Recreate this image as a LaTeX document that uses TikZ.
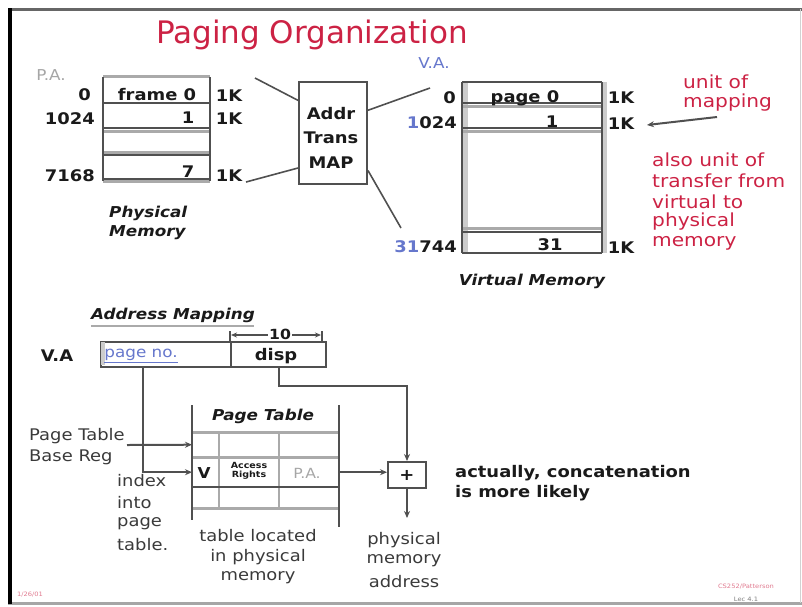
\documentclass[tikz,border=0pt]{standalone}
\usepackage{fontspec}
\setmainfont[FakeStretch=1.12]{DejaVu Sans}
\newfontfamily\titlefont{DejaVu Sans}
\usetikzlibrary{arrows.meta}
\definecolor{ttred}{HTML}{CC2244}
\definecolor{ttblue}{HTML}{6677CC}
\definecolor{ln}{HTML}{505050}
\definecolor{lg}{HTML}{AAAAAA}
\definecolor{tx}{HTML}{1A1A1A}
\definecolor{tl}{HTML}{3A3A3A}
\begin{document}
\begin{tikzpicture}[x=1pt,y=-1pt,
  fs/.style={font=\fontsize{#1}{#1}\selectfont},
  fb/.style={font=\fontsize{#1}{#1}\selectfont\bfseries},
  lbl/.style={inner sep=0pt, text=tx, fb=16},
  redt/.style={inner sep=0pt, text=ttred, fs=18, anchor=west},
  bi/.style={inner sep=0pt, text=tx, font=\fontsize{15}{15}\selectfont\bfseries\itshape},
  sm/.style={inner sep=0pt, text=tl, fs=16},
  dk/.style={draw=ln, line width=2pt},
  gl/.style={draw=lg, line width=3pt},
  conn/.style={draw=ln, line width=1.6pt},
  arr/.style={draw=ln, line width=2pt, -{Stealth[length=7pt,width=6pt]}},
  boxn/.style={draw=ln, line width=2pt, inner sep=0pt, anchor=north west}]
\useasboundingbox (0,0) rectangle (802,606);
% frame
\draw[draw=gray!80!black, line width=3pt] (8,9) -- (802,9);
\draw[draw=gray!70, line width=3pt] (8,603) -- (802,603);
\draw[draw=gray!35, line width=1pt] (800,9) -- (800,603);
\draw[draw=black, line width=3.5pt] (10,8) -- (10,604);
% title
\node[inner sep=0pt, text=ttred, font=\titlefont\fontsize{31}{31}\selectfont] (title) at (312,35) {Paging Organization};
% ---------- physical memory
\node[inner sep=0pt, text=gray!70, fs=15] (pa) at (51,75) {P.A.};
\path[gl] (103,76.5) -- (210,76.5);
\path[gl] (103,131) -- (210,131);
\path[gl] (103,152.5) -- (210,152.5);
\path[gl] (103,181) -- (210,181);
\path[dk] (103,77) -- (103,181) (210,77) -- (210,181);
\path[dk] (103,103) -- (210,103) (103,128) -- (210,128) (103,155) -- (210,155) (103,178.5) -- (210,178.5);
\node[lbl] (pf0) at (157,95) {frame 0};
\node[lbl] (pf1) at (188,118) {1};
\node[lbl] (pf7) at (188,172) {7};
\node[lbl, anchor=east] (pa0) at (91,95) {0};
\node[lbl, anchor=east] (pa1) at (95,119) {1024};
\node[lbl, anchor=east] (pa7) at (95,176) {7168};
\node[lbl] (pk0) at (229,96) {1K};
\node[lbl] (pk1) at (229,119) {1K};
\node[lbl] (pk7) at (229,176) {1K};
\node[bi, anchor=west] (phys) at (109,213) {Physical};
\node[bi, anchor=west] (physm) at (109,233) {Memory};
% ---------- address translation map
\node[boxn, minimum width=68pt, minimum height=102pt] (atm) at (298,81) {};
\node[lbl] (atm1) at (331,114) {Addr};
\node[lbl] (atm2) at (331,138) {Trans};
\node[lbl] (atm3) at (331,163) {MAP};
\coordinate (c1) at (255,78);
\coordinate (c2) at (246,182);
\coordinate (c3) at (430,88);
\coordinate (c4) at (401,228);
\draw[conn] (c1) -- (atm.137);
\draw[conn] (c2) -- (atm.225);
\draw[conn] (atm.33) -- (c3);
\draw[conn] (atm.-47) -- (c4);
% ---------- virtual memory
\node[inner sep=0pt, text=ttblue, fs=15] (va) at (434,63) {V.A.};
\fill[lg!60] (462,82) rectangle (468,253);
\fill[lg!60] (602,82) rectangle (607,253);
\path[gl] (462,106) -- (602,106);
\path[gl] (462,131) -- (602,131);
\path[gl] (462,228) -- (602,228);
\path[dk] (462,82) -- (602,82) (462,82) -- (462,253) (602,82) -- (602,253) (462,253) -- (602,253);
\path[dk] (462,103) -- (602,103) (462,128) -- (602,128) (462,232) -- (602,232);
\node[lbl] (vp0) at (525,98) {page 0};
\node[lbl] (vp1) at (552,122) {1};
\node[lbl] (vp31) at (550,245) {31};
\node[lbl, anchor=east] (va0) at (456,98) {0};
\node[lbl, anchor=east] (va1) at (457,123) {\textcolor{ttblue}{1}024};
\node[lbl, anchor=east] (va31) at (457,247) {\textcolor{ttblue}{31}744};
\node[lbl] (vk0) at (621,98) {1K};
\node[lbl] (vk1) at (621,124) {1K};
\node[lbl] (vk31) at (621,248) {1K};
\node[bi] (virt) at (532,281) {Virtual Memory};
% ---------- notes on the right
\node[redt] (uo1) at (683,82) {unit of};
\node[redt] (uo2) at (683,103) {mapping};
\coordinate (uoa) at (717,117);
\coordinate (uotip) at (647,125);
\draw[arr] (uoa) -- (uotip);
\node[redt] (al1) at (652,160) {also unit of};
\node[redt] (al2) at (652,181) {transfer from};
\node[redt] (al3) at (652,202) {virtual to};
\node[redt] (al4) at (652,222) {physical};
\node[redt] (al5) at (652,243) {memory};
% ---------- address mapping
\node[bi] (am) at (173,315) {Address Mapping};
\draw[draw=lg, line width=2pt] (am.south west) ++(0,3) -- ++(163,0);
\node[lbl] (vaa) at (57,356) {V.A};
\node[boxn, minimum width=130pt, minimum height=25pt] (pn) at (100,341) {};
\node[boxn, minimum width=95pt, minimum height=25pt] (dsp) at (230,341) {};
\fill[lg!60] (101,342) rectangle (105,365);
\node[inner sep=0pt, text=ttblue, fs=15] (pnt) at (141,356) {\underline{page no.}};
\node[lbl] (dspt) at (276,356) {disp};
\draw[dk] (230,331) -- (230,341) (322,331) -- (322,341);
\draw[draw=ln, line width=1.5pt, {Stealth[length=6pt,width=5pt]}-{Stealth[length=6pt,width=5pt]}] (231,335) -- (321,335);
\node[lbl, fb=14, fill=white, inner xsep=1pt] (ten) at (280,334) {10};
% ---------- page table
\node[bi] (ptt) at (263,416) {Page Table};
\node[inner sep=0pt, minimum width=147pt, minimum height=25pt, anchor=north west] (row1) at (192,432) {};
\node[inner sep=0pt, minimum width=147pt, minimum height=30pt, anchor=north west] (vrow) at (192,457) {};
\path[gl] (192,432) -- (339,432) (192,457) -- (339,457) (192,508) -- (339,508);
\path[draw=lg, line width=2.5pt] (219,432) -- (219,508) (279,432) -- (279,508);
\path[dk] (192,487) -- (339,487);
\path[dk] (192,405) -- (192,520) (339,405) -- (339,527);
\node[lbl, fb=15] (vv) at (204,473) {V};
\node[inner sep=0pt, text=tx, align=center, font=\fontsize{8.5}{9.5}\selectfont\bfseries] (acc) at (249,471) {Access\\Rights};
\node[inner sep=0pt, text=gray!70, fs=14] (ppa) at (307,473) {P.A.};
\node[sm, anchor=west] (ptb1) at (29,436) {Page Table};
\node[sm, anchor=west] (ptb2) at (29,457) {Base Reg};
\coordinate (bregc) at (127,445);
\draw[arr] (bregc) -- (row1.west);
\coordinate (pnc) at (143,366);
\draw[arr] (pnc) |- (vrow.west);
\node[sm, anchor=west] (ix1) at (117,481) {index};
\node[sm, anchor=west] (ix2) at (117,503) {into};
\node[sm, anchor=west] (ix3) at (117,524) {page};
\node[sm, anchor=west] (ix4) at (117,545) {table.};
\node[sm] (tl1) at (258,536) {table located};
\node[sm] (tl2) at (258,557) {in physical};
\node[sm] (tl3) at (258,578) {memory};
% ---------- adder
\node[draw=ln, line width=2pt, minimum width=38pt, minimum height=26pt, inner sep=0pt, text=tx, fb=16] (plus) at (407,475) {+};
\draw[arr] (vrow.east) -- (vrow.east -| plus.west);
\draw[arr] (dsp.south) -- ++(0,18) -| (plus.north);
\coordinate (pma) at (407,518);
\draw[arr] (plus.south) -- (pma);
\node[sm] (pm1) at (404,540) {physical};
\node[sm] (pm2) at (404,561) {memory};
\node[sm] (pm3) at (404,582) {address};
\node[lbl, anchor=west] (ac1) at (455,473) {actually,  concatenation};
\node[lbl, anchor=west] (ac2) at (455,493) {is more likely};
% ---------- footer
\node[inner sep=0pt, text=ttred!60, fs=6] (date) at (30,595) {1/26/01};
\node[inner sep=0pt, text=ttred!60, fs=6] (crs) at (746,587) {CS252/Patterson};
\node[inner sep=0pt, text=gray, fs=6] (lec) at (746,599) {Lec 4.1};
\end{tikzpicture}
\end{document}
